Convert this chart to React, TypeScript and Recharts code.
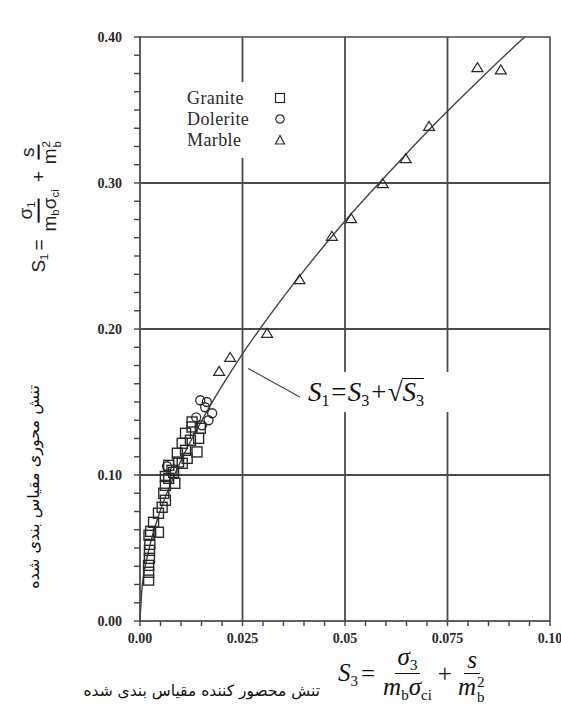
import React from "react";
import {
  ComposedChart,
  Line,
  Scatter,
  XAxis,
  YAxis,
  ReferenceLine,
  ReferenceArea,
} from "recharts";

// scaled confining stress S3 / scaled axial stress S1
const graniteS3 = [
  0.0021, 0.0021, 0.0021, 0.0023, 0.0023, 0.0024, 0.0022, 0.0026, 0.0045, 0.0033,
  0.0045, 0.0054, 0.0062, 0.0058, 0.0062, 0.0085, 0.007, 0.0082, 0.007, 0.0103,
  0.0094, 0.0115, 0.0091, 0.0111, 0.0139, 0.0103, 0.0123, 0.0143, 0.0111, 0.0127,
  0.0147, 0.0127, 0.0078, 0.0062,
];
const graniteS1 = [
  0.028, 0.0334, 0.0381, 0.0429, 0.0484, 0.0525, 0.0587, 0.0614, 0.0608, 0.0676,
  0.0738, 0.0779, 0.0827, 0.0875, 0.0929, 0.0943, 0.0977, 0.1018, 0.1066, 0.108,
  0.1089, 0.1114, 0.1149, 0.1169, 0.1158, 0.1217, 0.1238, 0.1251, 0.1286, 0.1329,
  0.132, 0.1363, 0.1032, 0.099,
];

const doleriteS3 = [0.0066, 0.0147, 0.0163, 0.0176, 0.0159, 0.0167, 0.0151, 0.0137];
const doleriteS1 = [0.106, 0.1512, 0.15, 0.1423, 0.1464, 0.1375, 0.134, 0.1395];

const marbleS3 = [0.0193, 0.022, 0.031, 0.0389, 0.0468, 0.0515, 0.0592, 0.0648, 0.0705, 0.0823, 0.088];
const marbleS1 = [0.171, 0.1805, 0.197, 0.2338, 0.2635, 0.2756, 0.2996, 0.3167, 0.3388, 0.379, 0.3775];

// fitted curve S1 = S3 + sqrt(S3)
const fitS3 = [
  0, 0.0005, 0.001, 0.002, 0.003, 0.005, 0.0075, 0.01, 0.0125, 0.015, 0.02, 0.025,
  0.03, 0.035, 0.04, 0.05, 0.06, 0.07, 0.08, 0.09, 0.0938,
];
const fitS1 = [
  0, 0.023, 0.033, 0.047, 0.058, 0.076, 0.094, 0.11, 0.124, 0.137, 0.161, 0.183,
  0.203, 0.222, 0.24, 0.274, 0.305, 0.335, 0.363, 0.39, 0.4,
];

const xTicks = [
  0, 0.005, 0.01, 0.015, 0.02, 0.025, 0.03, 0.035, 0.04, 0.045, 0.05, 0.055, 0.06,
  0.065, 0.07, 0.075, 0.08, 0.085, 0.09, 0.095, 0.1,
];
const xMajor = [0, 0.025, 0.05, 0.075, 0.1];
const xMajorLabels = ["0.00", "0.025", "0.05", "0.075", "0.10"];

const yTicks = [
  0, 0.0125, 0.025, 0.0375, 0.05, 0.0625, 0.075, 0.0875, 0.1, 0.1125, 0.125, 0.1375,
  0.15, 0.1625, 0.175, 0.1875, 0.2, 0.2125, 0.225, 0.2375, 0.25, 0.2625, 0.275,
  0.2875, 0.3, 0.3125, 0.325, 0.3375, 0.35, 0.3625, 0.375, 0.3875, 0.4,
];
const yMajor = [0, 0.1, 0.2, 0.3, 0.4];
const yMajorLabels = ["0.00", "0.10", "0.20", "0.30", "0.40"];

const xGrid = [0.025, 0.05, 0.075];
const yGrid = [0.1, 0.2, 0.3];

const zip = (xs: number[], ys: number[]) => xs.map((x, i) => ({ x, y: ys[i] }));

const granite = zip(graniteS3, graniteS1);
const dolerite = zip(doleriteS3, doleriteS1);
const marble = zip(marbleS3, marbleS1);
const fit = zip(fitS3, fitS1);

const INK = "#2a2a2a";
const GRID = "#4a4a4a";
const SERIF = "'Liberation Serif', 'Times New Roman', serif";

const findLabel = (v: number, majors: number[], labels: string[]) => {
  const i = majors.findIndex((m) => Math.abs(m - v) < 1e-6);
  return i >= 0 ? labels[i] : null;
};

const XTick = (props: any) => {
  const label = findLabel(props.payload.value, xMajor, xMajorLabels);
  if (!label) return <g />;
  return (
    <text
      x={props.x}
      y={props.y}
      dy={15}
      textAnchor="middle"
      style={{ fontFamily: SERIF, fontSize: 14, fontWeight: 600 }}
      fill={INK}
    >
      {label}
    </text>
  );
};

const YTick = (props: any) => {
  const label = findLabel(props.payload.value, yMajor, yMajorLabels);
  if (!label) return <g />;
  return (
    <text
      x={122}
      y={props.y}
      dy={5}
      textAnchor="end"
      style={{ fontFamily: SERIF, fontSize: 14, fontWeight: 600 }}
      fill={INK}
    >
      {label}
    </text>
  );
};

const Square = (p: any) => (
  <rect x={p.cx - 5} y={p.cy - 5} width={10} height={10} fill="none" stroke={INK} strokeWidth={1.4} />
);
const Circle = (p: any) => <circle cx={p.cx} cy={p.cy} r={4.5} fill="none" stroke={INK} strokeWidth={1.3} />;
const Triangle = (p: any) => (
  <polygon
    points={`${p.cx},${p.cy - 5} ${p.cx + 5.5},${p.cy + 4} ${p.cx - 5.5},${p.cy + 4}`}
    fill="none"
    stroke={INK}
    strokeWidth={1.2}
  />
);

const Frac = ({ num, den, bar = 1.5 }: any) => (
  <span
    style={{
      display: "inline-flex",
      flexDirection: "column",
      alignItems: "center",
      verticalAlign: "middle",
      margin: "0 2px",
    }}
  >
    <span style={{ borderBottom: `${bar}px solid #111`, padding: "0 3px", lineHeight: 1.05 }}>{num}</span>
    <span style={{ lineHeight: 1.05, padding: "0 3px" }}>{den}</span>
  </span>
);

const Sub = ({ children, size = "0.6em" }: any) => (
  <span style={{ fontSize: size, verticalAlign: "-0.3em", fontStyle: "normal" }}>{children}</span>
);

// m with subscript b and superscript 2, sizes in px of the parent font
const MB2 = ({ fs }: { fs: number }) => (
  <span>
    m
    <span style={{ position: "relative", display: "inline-block", width: fs * 0.42, height: fs * 0.7 }}>
      <span style={{ position: "absolute", left: 1, top: -fs * 0.12, fontSize: fs * 0.6, fontStyle: "normal", lineHeight: 1 }}>2</span>
      <span style={{ position: "absolute", left: 1, top: fs * 0.48, fontSize: fs * 0.6, fontStyle: "normal", lineHeight: 1 }}>b</span>
    </span>
  </span>
);

const legendRows = [
  { name: "Granite", icon: "square", y: 98 },
  { name: "Dolerite", icon: "circle", y: 119 },
  { name: "Marble", icon: "triangle", y: 140 },
];

const LegendIcon = ({ kind }: { kind: string }) => (
  <svg width={12} height={12} style={{ position: "absolute", left: 274, top: -6 }}>
    {kind === "square" && <rect x={1.5} y={1.5} width={9} height={9} fill="none" stroke={INK} strokeWidth={1.2} />}
    {kind === "circle" && <circle cx={6} cy={6} r={4.2} fill="none" stroke={INK} strokeWidth={1.2} />}
    {kind === "triangle" && <polygon points="6,1.5 10.5,10 1.5,10" fill="none" stroke={INK} strokeWidth={1.2} />}
  </svg>
);

export default function App() {
  return (
    <div style={{ position: "absolute", left: 0, top: 0, width: 561, height: 714, background: "#fff", overflow: "hidden" }}>
      <ComposedChart width={561} height={714} margin={{ top: 37, right: 11, bottom: 63, left: 0 }}>
        {xGrid.map((v) => (
          <ReferenceLine key={"gx" + v} x={v} stroke={GRID} strokeWidth={1.8} />
        ))}
        {yGrid.map((v) => (
          <ReferenceLine key={"gy" + v} y={v} stroke={GRID} strokeWidth={1.8} />
        ))}
        <ReferenceArea x1={0} x2={0.1} y1={0} y2={0.4} fill="none" stroke={GRID} strokeWidth={1.6} ifOverflow="visible" />
        <XAxis
          type="number"
          dataKey="x"
          domain={[0, 0.1]}
          ticks={xTicks}
          interval={0}
          height={30}
          tickSize={5}
          tick={<XTick />}
          stroke={GRID}
          tickLine={{ stroke: "#444", strokeWidth: 1.4 }}
        />
        <YAxis
          type="number"
          dataKey="y"
          domain={[0, 0.4]}
          ticks={yTicks}
          interval={0}
          width={140}
          tickSize={6}
          tick={<YTick />}
          stroke={GRID}
          tickLine={{ stroke: "#444", strokeWidth: 1.4 }}
        />
        <Line
          data={fit}
          dataKey="y"
          type="monotone"
          stroke="#444"
          strokeWidth={1.4}
          dot={false}
          isAnimationActive={false}
        />
        <Scatter data={granite} shape={<Square />} isAnimationActive={false} />
        <Scatter data={dolerite} shape={<Circle />} isAnimationActive={false} />
        <Scatter data={marble} shape={<Triangle />} isAnimationActive={false} />
        <ReferenceLine
          segment={[
            { x: 0.0264, y: 0.173 },
            { x: 0.0395, y: 0.1525 },
          ]}
          stroke="#444"
          strokeWidth={1.2}
        />
      </ComposedChart>

      {/* legend box */}
      <div style={{ position: "absolute", left: 180, top: 82, width: 112, height: 76, background: "#fff" }} />
      {legendRows.map((r) => (
        <div key={r.name} style={{ position: "absolute", left: 0, top: r.y, width: 0, height: 0 }}>
          <span
            style={{
              position: "absolute",
              left: 187,
              top: -11,
              fontFamily: SERIF,
              fontSize: 18,
              lineHeight: "22px",
              color: INK,
              whiteSpace: "nowrap",
              letterSpacing: 0.4,
            }}
          >
            {r.name}
          </span>
          <LegendIcon kind={r.icon} />
        </div>
      ))}

      {/* curve annotation */}
      <div
        style={{
          position: "absolute",
          left: 300,
          top: 372,
          width: 150,
          height: 40,
          background: "#fff",
          fontFamily: SERIF,
          fontStyle: "italic",
          fontSize: 27,
          lineHeight: "40px",
          color: "#111",
          whiteSpace: "nowrap",
          paddingLeft: 8,
          boxSizing: "border-box",
        }}
      >
        S<Sub>1</Sub>=S<Sub>3</Sub>+<span style={{ fontStyle: "normal" }}>√</span>
        <span style={{ borderTop: "1.3px solid #111", lineHeight: "26px", display: "inline-block" }}>
          S<Sub>3</Sub>
        </span>
      </div>

      {/* x axis title */}
      <div
        style={{
          position: "absolute",
          left: 120,
          top: 682,
          width: 200,
          textAlign: "right",
          direction: "rtl",
          fontFamily: "'DejaVu Sans', sans-serif",
          fontSize: 15.5,
          color: "#111",
          whiteSpace: "nowrap",
        }}
      >
        تنش محصور کننده مقیاس بندی شده
      </div>
      <div
        style={{
          position: "absolute",
          left: 338,
          top: 644,
          display: "flex",
          alignItems: "center",
          fontFamily: SERIF,
          fontStyle: "italic",
          fontSize: 25,
          color: "#111",
          whiteSpace: "nowrap",
        }}
      >
        <span>
          S<Sub>3</Sub>
        </span>
        <span style={{ fontStyle: "normal", margin: "0 3px" }}>=</span>
        <Frac
          num={
            <span>
              σ<Sub>3</Sub>
            </span>
          }
          den={
            <span>
              m<Sub>b</Sub>σ<Sub>ci</Sub>
            </span>
          }
        />
        <span style={{ fontStyle: "normal", margin: "0 1px" }}>+</span>
        <Frac num={<span>s</span>} den={<MB2 fs={25} />} />
      </div>

      {/* y axis title */}
      <div
        style={{
          position: "absolute",
          left: 39,
          top: 204,
          transform: "translate(-50%, -50%) rotate(-90deg)",
          display: "flex",
          alignItems: "center",
          fontFamily: "'Liberation Sans', Arial, sans-serif",
          fontSize: 19,
          color: "#222",
          whiteSpace: "nowrap",
        }}
      >
        <span>
          S<Sub>1</Sub>
        </span>
        <span style={{ margin: "0 3px" }}>=</span>
        <Frac
          bar={2}
          num={
            <span>
              σ<Sub>1</Sub>
            </span>
          }
          den={
            <span>
              m<Sub>b</Sub>σ<Sub>ci</Sub>
            </span>
          }
        />
        <span style={{ margin: "0 2px" }}>+</span>
        <Frac bar={2} num={<span>s</span>} den={<MB2 fs={19} />} />
      </div>
      <div
        style={{
          position: "absolute",
          left: 33,
          top: 487,
          transform: "translate(-50%, -50%) rotate(-90deg)",
          direction: "rtl",
          fontFamily: "'DejaVu Sans', sans-serif",
          fontSize: 16,
          color: "#111",
          whiteSpace: "nowrap",
        }}
      >
        تنش محوری مقیاس بندی شده
      </div>
    </div>
  );
}
